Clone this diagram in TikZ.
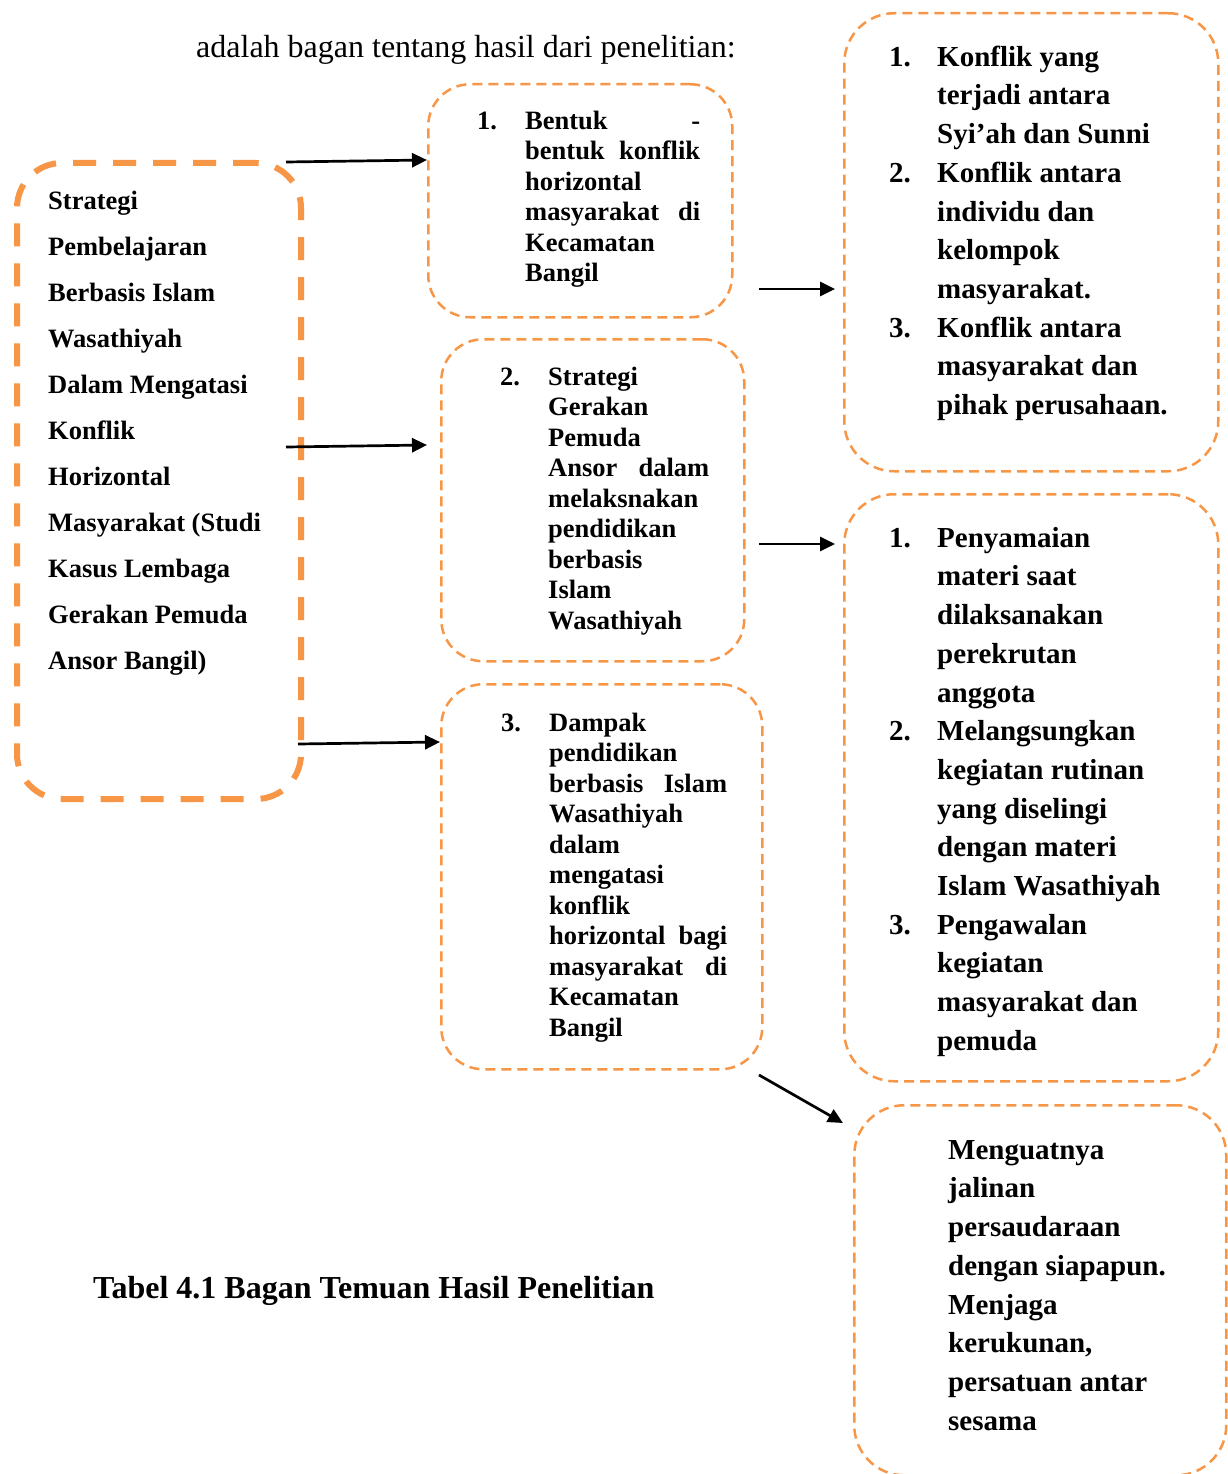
\documentclass[tikz,border=0pt]{standalone}
\usepackage{fontspec}
\setmainfont{Liberation Serif}
\usetikzlibrary{arrows.meta}
\definecolor{org}{HTML}{F79646}
\newcommand\numlab[1]{\makebox[48pt][l]{#1}}
\newcommand\indt{\hspace*{48pt}}
\newcommand\fst{\rule{0pt}{30pt}}
\tikzset{
  obox/.style={draw=org, line width=2.5pt, dash pattern=on 10pt off 6pt,
    rounded corners=42pt, rectangle, inner sep=0pt, anchor=north west},
  tbox/.style={obox, line width=6pt, dash pattern=on 23pt off 17pt, rounded corners=45pt},
  mtxt/.style={anchor=north west, inner sep=0pt, align=left,
    font=\bfseries\fontsize{26.5}{30.5}\selectfont},
  ltxt/.style={mtxt, font=\bfseries\fontsize{26.5}{46}\selectfont},
  rtxt/.style={mtxt, font=\bfseries\fontsize{29}{38.7}\selectfont},
  arr/.style={line width=2.7pt, -{Triangle[length=15pt,width=14pt]}}
}
\begin{document}
\begin{tikzpicture}[x=1pt,y=-1pt]
\useasboundingbox[fill=white] (0,0) rectangle (1227,1474);
% header and caption
\node[anchor=base west, inner sep=0pt, font=\fontsize{32}{38}\selectfont] (hdr) at (196,58)
  {adalah bagan tentang hasil dari penelitian:};
\node[anchor=base west, inner sep=0pt, font=\bfseries\fontsize{32}{38}\selectfont] (cap) at (93,1298)
  {Tabel 4.1 Bagan Temuan Hasil Penelitian};
% boxes
\node[tbox, minimum width=284pt, minimum height=636pt] (L) at (14,160) {};
\node[obox, minimum width=304pt, minimum height=233pt] (B1) at (427,83) {};
\node[obox, minimum width=303pt, minimum height=322pt] (B2) at (440,338) {};
\node[obox, minimum width=321pt, minimum height=385pt] (B3) at (440,683) {};
\node[obox, minimum width=374pt, minimum height=458pt, rounded corners=50pt] (R1) at (843,12) {};
\node[obox, minimum width=374pt, minimum height=587pt, rounded corners=50pt] (R2) at (843,493) {};
\node[obox, minimum width=372pt, minimum height=370pt, rounded corners=50pt] (R3) at (853,1104) {};
% texts
\node[ltxt] (Lt) at (48,179) {\fst Strategi\\ Pembelajaran\\ Berbasis Islam\\ Wasathiyah\\
  Dalam Mengatasi\\ Konflik\\ Horizontal\\ Masyarakat (Studi\\ Kasus Lembaga\\
  Gerakan Pemuda\\ Ansor Bangil)};
\node[mtxt] (B1t) at (477,99) {\fst\numlab{1.}\hbox to 175pt{Bentuk\hfill-}\\
  \indt\hbox to 175pt{bentuk\hfill konflik}\\ \indt horizontal\\
  \indt\hbox to 175pt{masyarakat\hfill di}\\ \indt Kecamatan\\ \indt Bangil};
\node[mtxt] (B2t) at (500,355) {\fst\numlab{2.}Strategi\\ \indt Gerakan\\ \indt Pemuda\\
  \indt\hbox to 161pt{Ansor\hfill dalam}\\ \indt melaksnakan\\ \indt pendidikan\\
  \indt berbasis\\ \indt Islam\\ \indt Wasathiyah};
\node[mtxt] (B3t) at (501,701) {\fst\numlab{3.}Dampak\\ \indt pendidikan\\
  \indt\hbox to 178pt{berbasis\hfill Islam}\\ \indt Wasathiyah\\ \indt dalam\\
  \indt mengatasi\\ \indt konflik\\ \indt\hbox to 178pt{horizontal\hfill bagi}\\
  \indt\hbox to 178pt{masyarakat\hfill di}\\ \indt Kecamatan\\ \indt Bangil};
\node[rtxt] (R1t) at (889,36) {\fst\numlab{1.}Konflik yang\\ \indt terjadi antara\\
  \indt Syi’ah dan Sunni\\ \numlab{2.}Konflik antara\\ \indt individu dan\\
  \indt kelompok\\ \indt masyarakat.\\ \numlab{3.}Konflik antara\\
  \indt masyarakat dan\\ \indt pihak perusahaan.};
\node[rtxt] (R2t) at (889,517) {\fst\numlab{1.}Penyamaian\\ \indt materi saat\\
  \indt dilaksanakan\\ \indt perekrutan\\ \indt anggota\\ \numlab{2.}Melangsungkan\\
  \indt kegiatan rutinan\\ \indt yang diselingi\\ \indt dengan materi\\
  \indt Islam Wasathiyah\\ \numlab{3.}Pengawalan\\ \indt kegiatan\\
  \indt masyarakat dan\\ \indt pemuda};
\node[rtxt] (R3t) at (948,1129) {\fst Menguatnya\\ jalinan\\ persaudaraan\\
  dengan siapapun.\\ Menjaga\\ kerukunan,\\ persatuan antar\\ sesama};
% arrows
\coordinate (a1s) at (286,162); \coordinate (a1e) at (427,160);
\coordinate (a2s) at (286,447); \coordinate (a2e) at (427,445);
\coordinate (a3s) at (298,744); \coordinate (a3e) at (440,742);
\coordinate (a4s) at (759,289); \coordinate (a4e) at (835,289);
\coordinate (a5s) at (759,544); \coordinate (a5e) at (835,544);
\coordinate (a6s) at (759,1075); \coordinate (a6e) at (843,1123);
\draw[arr] (a1s) -- (a1e);
\draw[arr] (a2s) -- (a2e);
\draw[arr] (a3s) -- (a3e);
\draw[arr] (a4s) -- (a4e);
\draw[arr] (a5s) -- (a5e);
\draw[arr] (a6s) -- (a6e);
\end{tikzpicture}
\end{document}
